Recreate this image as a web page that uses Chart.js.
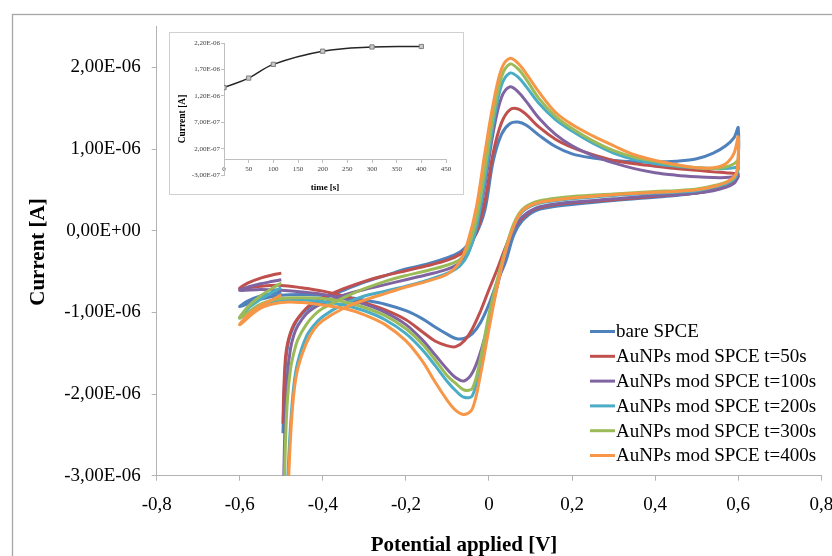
<!DOCTYPE html>
<html><head><meta charset="utf-8">
<script src="https://cdn.jsdelivr.net/npm/chart.js@4.4.0/dist/chart.umd.min.js"></script>
<style>
html,body{margin:0;padding:0;background:#fff;overflow:hidden;}
#wrap{position:relative;width:832px;height:556px;}
#main{position:absolute;left:0;top:0;}
#inset{position:absolute;left:169px;top:32px;}
</style></head><body>
<div id="wrap">
<canvas id="main" width="832" height="556"></canvas>
<canvas id="inset" width="295" height="163"></canvas>
</div>
<script>
// ---------- DATA ----------
const seriesLabels = ['bare SPCE','AuNPs mod SPCE t=50s','AuNPs mod SPCE t=100s','AuNPs mod SPCE t=200s','AuNPs mod SPCE t=300s','AuNPs mod SPCE t=400s'];
// applied potential sweep [V] (shared by all scans)
const potential = [
-0.496,-0.494,-0.49,-0.485,-0.478,-0.47,-0.46,-0.44,-0.42,-0.4,
-0.35,-0.3,-0.25,-0.2,-0.15,-0.1,-0.07,-0.05,-0.03,-0.01,
0.01,0.03,0.05,0.07,0.09,0.12,0.16,0.2,0.25,0.3,
0.35,0.4,0.45,0.5,0.54,0.57,0.59,0.6,0.598,0.59,
0.57,0.54,0.5,0.45,0.4,0.3,0.2,0.15,0.11,0.08,
0.06,0.04,0.02,0,-0.02,-0.04,-0.06,-0.08,-0.1,-0.13,
-0.16,-0.2,-0.25,-0.3,-0.35,-0.4,-0.45,-0.5,-0.55,-0.6,
-0.58,-0.55,-0.52,-0.5];
// currents in microamperes
const currentBare = [
-2.48,-2.10,-1.65,-1.42,-1.27,-1.17,-1.08,-0.97,-0.90,-0.84,
-0.73,-0.63,-0.55,-0.47,-0.41,-0.33,-0.26,-0.17,-0.03,0.25,
0.85,1.18,1.31,1.33,1.29,1.17,1.03,0.94,0.89,0.86,
0.845,0.84,0.85,0.88,0.95,1.04,1.14,1.26,0.72,0.62,
0.55,0.50,0.46,0.43,0.41,0.37,0.32,0.29,0.24,0.12,
-0.05,-0.38,-0.62,-0.90,-1.12,-1.26,-1.32,-1.32,-1.27,-1.18,
-1.08,-0.98,-0.90,-0.85,-0.81,-0.79,-0.78,-0.79,-0.84,-0.93,
-0.86,-0.80,-0.77,-0.75];
const currentT50 = [
-2.36,-1.95,-1.55,-1.38,-1.25,-1.15,-1.07,-0.95,-0.87,-0.82,
-0.71,-0.62,-0.55,-0.49,-0.43,-0.36,-0.29,-0.20,-0.02,0.35,
0.95,1.32,1.48,1.49,1.42,1.27,1.12,1.02,0.93,0.86,
0.82,0.79,0.76,0.74,0.72,0.71,0.70,0.70,0.67,0.61,
0.55,0.50,0.46,0.44,0.42,0.38,0.34,0.31,0.26,0.15,
0.03,-0.20,-0.47,-0.72,-0.98,-1.20,-1.35,-1.42,-1.41,-1.35,
-1.24,-1.09,-0.97,-0.88,-0.80,-0.74,-0.70,-0.67,-0.68,-0.71,
-0.64,-0.58,-0.54,-0.52];
const currentT100 = [
-3.6,-3.0,-2.2,-1.75,-1.45,-1.28,-1.16,-1.02,-0.94,-0.89,
-0.79,-0.72,-0.66,-0.60,-0.54,-0.47,-0.39,-0.26,0.02,0.55,
1.20,1.63,1.76,1.70,1.58,1.38,1.18,1.04,0.92,0.83,
0.76,0.71,0.68,0.66,0.65,0.65,0.66,0.67,0.64,0.58,
0.53,0.49,0.46,0.44,0.43,0.39,0.35,0.32,0.27,0.17,
0.03,-0.28,-0.68,-1.10,-1.48,-1.74,-1.84,-1.80,-1.70,-1.52,
-1.34,-1.15,-1.00,-0.90,-0.83,-0.78,-0.75,-0.73,-0.72,-0.73,
-0.69,-0.65,-0.62,-0.60];
const currentT200 = [
-5.0,-4.5,-3.8,-3.1,-2.4,-1.9,-1.6,-1.30,-1.15,-1.05,
-0.90,-0.80,-0.74,-0.68,-0.61,-0.52,-0.43,-0.28,0.05,0.62,
1.30,1.78,1.93,1.88,1.76,1.56,1.36,1.22,1.07,0.95,
0.87,0.82,0.79,0.77,0.76,0.76,0.77,0.78,0.71,0.63,
0.57,0.53,0.49,0.47,0.46,0.43,0.39,0.36,0.32,0.23,
0.06,-0.25,-0.65,-1.08,-1.60,-2.02,-2.04,-1.96,-1.85,-1.65,
-1.46,-1.26,-1.09,-0.98,-0.91,-0.87,-0.85,-0.85,-0.91,-1.07,
-0.95,-0.84,-0.75,-0.70];
const currentT300 = [
-4.0,-3.4,-2.6,-2.05,-1.70,-1.50,-1.33,-1.15,-1.03,-0.95,
-0.82,-0.71,-0.62,-0.55,-0.49,-0.42,-0.35,-0.20,0.15,0.75,
1.40,1.88,2.04,1.98,1.85,1.62,1.40,1.25,1.10,0.98,
0.90,0.85,0.80,0.77,0.76,0.78,0.82,0.86,0.74,0.65,
0.59,0.55,0.51,0.49,0.48,0.45,0.42,0.39,0.35,0.26,
0.09,-0.22,-0.60,-1.02,-1.55,-1.93,-1.95,-1.87,-1.78,-1.58,
-1.39,-1.20,-1.04,-0.94,-0.87,-0.83,-0.82,-0.83,-0.90,-1.07,
-0.93,-0.80,-0.70,-0.64];
const currentT400 = [
-5.5,-5.0,-4.2,-3.4,-2.55,-2.0,-1.68,-1.38,-1.20,-1.10,
-0.95,-0.85,-0.77,-0.69,-0.62,-0.53,-0.38,-0.12,0.30,0.95,
1.55,1.98,2.11,2.05,1.92,1.70,1.45,1.30,1.16,1.04,
0.93,0.86,0.81,0.77,0.77,0.82,0.95,1.15,0.76,0.66,
0.59,0.54,0.50,0.48,0.47,0.44,0.40,0.37,0.33,0.24,
0.06,-0.25,-0.68,-1.20,-1.75,-2.18,-2.25,-2.20,-2.08,-1.85,
-1.60,-1.35,-1.15,-1.03,-0.95,-0.91,-0.88,-0.88,-0.95,-1.15,
-1.03,-0.92,-0.84,-0.79];
const xTickValues = [-0.8,-0.6,-0.4,-0.2,0,0.2,0.4,0.6,0.8];
const yTickValues = [-3e-6,-2e-6,-1e-6,0,1e-6,2e-6];
const xTitle = 'Potential applied [V]';
const yTitle = 'Current [A]';
// inset: peak current vs deposition time
const insetTime = [0,50,100,200,300,400];
const insetCurrent = [1.36e-6,1.54e-6,1.80e-6,2.05e-6,2.13e-6,2.14e-6];
const insetXTicks = [0,50,100,150,200,250,300,350,400,450];
const insetYTicks = [-3e-7,2e-7,7e-7,1.2e-6,1.7e-6,2.2e-6];
const insetXTitle = 'time [s]';
const insetYTitle = 'Current [A]';

// ---------- STYLE ----------
const seriesColors = ['#4F81BD','#C0504D','#8064A2','#4BACC6','#9BBB59','#F79646'];
const serif = '"Liberation Serif","Times New Roman",serif';

function sciComma(v){
  if (Math.abs(v) < 1e-15) return '0,00E+00';
  const e = Math.floor(Math.log10(Math.abs(v)) + 1e-9);
  const m = v / Math.pow(10, e);
  const ae = Math.abs(e);
  return m.toFixed(2).replace('.', ',') + 'E' + (e < 0 ? '-' : '+') + (ae < 10 ? '0' : '') + ae;
}
function decComma(v){
  if (Math.abs(v) < 1e-12) return '0';
  return v.toFixed(1).replace('.', ',');
}

const seriesCurrents = [currentBare,currentT50,currentT100,currentT200,currentT300,currentT400];
const datasets = seriesCurrents.map((cur, i) => ({
  label: seriesLabels[i],
  data: potential.map((p, k) => ({x: p, y: cur[k] * 1e-6})),
  showLine: true,
  borderColor: seriesColors[i],
  backgroundColor: seriesColors[i],
  borderWidth: 3,
  pointRadius: 0,
  tension: 0.35,
  order: 5 - i
}));

const mainDecor = {
  id: 'mainDecor',
  beforeDraw(chart){
    const ctx = chart.ctx;
    ctx.save();
    ctx.fillStyle = '#fff';
    ctx.fillRect(0, 0, chart.width, chart.height);
    ctx.strokeStyle = '#a6a6a6';
    ctx.lineWidth = 1.3;
    ctx.strokeRect(12.5, 14.5, 900, 700);
    ctx.restore();
  },
  afterDraw(chart){
    const ctx = chart.ctx;
    ctx.save();
    ctx.fillStyle = '#000';
    ctx.font = 'bold 21px ' + serif;
    ctx.textAlign = 'center';
    ctx.textBaseline = 'alphabetic';
    ctx.fillText(xTitle, 464, 551);
    ctx.translate(44, 252);
    ctx.rotate(-Math.PI / 2);
    ctx.fillText(yTitle, 0, 0);
    ctx.restore();
    ctx.save();
    ctx.font = '19px ' + serif;
    ctx.textAlign = 'left';
    ctx.textBaseline = 'middle';
    seriesLabels.forEach((lab, i) => {
      const y = 331.5 + i * 24.8;
      ctx.strokeStyle = seriesColors[i];
      ctx.lineWidth = 3;
      ctx.beginPath(); ctx.moveTo(590, y); ctx.lineTo(615, y); ctx.stroke();
      ctx.fillStyle = '#000';
      ctx.fillText(lab, 616, y + 1);
    });
    ctx.restore();
  }
};

new Chart(document.getElementById('main'), {
  type: 'scatter',
  data: {datasets},
  options: {
    responsive: false,
    animation: false,
    events: [],
    layout: {padding: {left: 0, top: 26.5, right: 10.7, bottom: 0}},
    plugins: {legend: {display: false}, tooltip: {enabled: false}},
    scales: {
      x: {
        type: 'linear', min: -0.8, max: 0.8,
        afterBuildTicks: s => { s.ticks = xTickValues.map(v => ({value: v})); },
        afterFit: s => { s.height = 80.3; s.paddingLeft = 0; s.paddingRight = 0; },
        ticks: {callback: v => decComma(v), font: {family: serif, size: 19}, color: '#000', padding: 13, maxRotation: 0, autoSkip: false},
        grid: {drawOnChartArea: false, drawTicks: true, tickLength: 5, color: '#b3b3b3'},
        border: {display: true, color: '#b3b3b3', width: 1}
      },
      y: {
        type: 'linear', min: -3e-6, max: 2.5e-6,
        afterBuildTicks: s => { s.ticks = yTickValues.map(v => ({value: v})); },
        afterFit: s => { s.width = 156.7; s.paddingTop = 0; s.paddingBottom = 0; },
        ticks: {callback: v => sciComma(v), font: {family: serif, size: 19}, color: '#000', padding: 11, autoSkip: false},
        grid: {drawOnChartArea: false, drawTicks: true, tickLength: 5, color: '#b3b3b3'},
        border: {display: true, color: '#b3b3b3', width: 1}
      }
    }
  },
  plugins: [mainDecor]
});

const insetDecor = {
  id: 'insetDecor',
  beforeDraw(chart){
    const ctx = chart.ctx;
    ctx.save();
    ctx.fillStyle = '#fff';
    ctx.fillRect(0, 0, chart.width, chart.height);
    ctx.strokeStyle = '#d0d0d0';
    ctx.lineWidth = 1;
    ctx.strokeRect(0.5, 0.5, chart.width - 1, chart.height - 1);
    ctx.restore();
  },
  afterDraw(chart){
    const ctx = chart.ctx;
    ctx.save();
    ctx.fillStyle = '#000';
    ctx.font = 'bold 9px ' + serif;
    ctx.textAlign = 'center';
    ctx.textBaseline = 'middle';
    ctx.fillText(insetXTitle, 156, 155.5);
    ctx.font = 'bold 9.5px ' + serif;
    ctx.textBaseline = 'alphabetic';
    ctx.translate(16, 87);
    ctx.rotate(-Math.PI / 2);
    ctx.fillText(insetYTitle, 0, 0);
    ctx.restore();
  }
};

new Chart(document.getElementById('inset'), {
  type: 'scatter',
  data: {datasets: [{
    label: 'peak current',
    data: insetTime.map((t, i) => ({x: t, y: insetCurrent[i]})),
    showLine: true,
    borderColor: '#262626',
    borderWidth: 1.5,
    tension: 0.4,
    pointStyle: 'rect',
    pointRadius: 3,
    pointBackgroundColor: '#c8c8c8',
    pointBorderColor: '#7f7f7f',
    pointBorderWidth: 1
  }]},
  options: {
    responsive: false,
    animation: false,
    events: [],
    layout: {padding: {left: 0, top: 11.3, right: 18, bottom: 20}},
    plugins: {legend: {display: false}, tooltip: {enabled: false}},
    scales: {
      x: {
        type: 'linear', min: 0, max: 450, position: {y: 0},
        afterBuildTicks: s => { s.ticks = insetXTicks.map(v => ({value: v})); },
        afterFit: s => { s.paddingLeft = 0; s.paddingRight = 0; },
        ticks: {font: {family: serif, size: 7}, color: '#404040', padding: 3, maxRotation: 0, autoSkip: false},
        grid: {drawOnChartArea: false, drawTicks: true, tickLength: 3, color: '#bfbfbf'},
        border: {display: true, color: '#bfbfbf', width: 1}
      },
      y: {
        type: 'linear', min: -3e-7, max: 2.2e-6,
        afterBuildTicks: s => { s.ticks = insetYTicks.map(v => ({value: v})); },
        afterFit: s => { s.width = 55; s.paddingTop = 0; s.paddingBottom = 0; },
        ticks: {callback: v => sciComma(v), font: {family: serif, size: 7}, color: '#404040', padding: 1, autoSkip: false},
        grid: {drawOnChartArea: false, drawTicks: true, tickLength: 3, color: '#bfbfbf'},
        border: {display: true, color: '#bfbfbf', width: 1}
      }
    }
  },
  plugins: [insetDecor]
});
</script>
</body></html>
